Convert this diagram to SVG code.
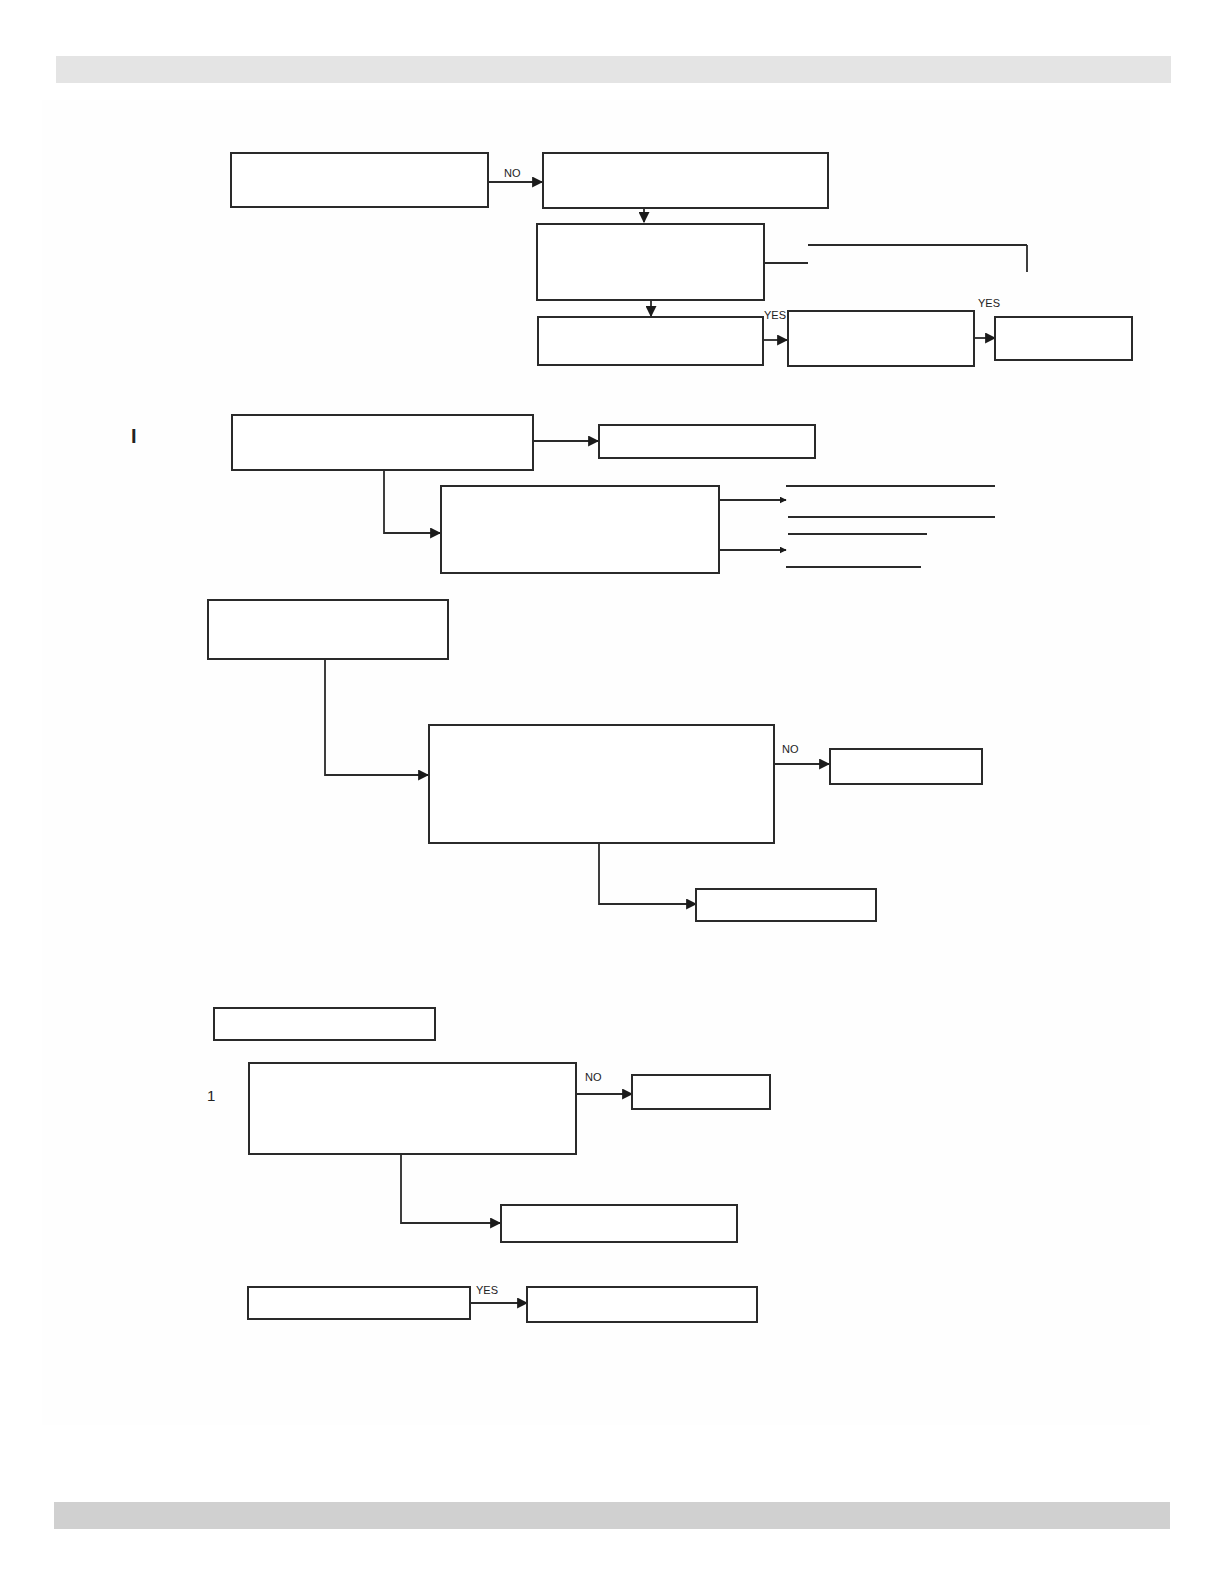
<svg xmlns="http://www.w3.org/2000/svg" width="1224" height="1584" viewBox="0 0 1224 1584">
<defs>
<style>
.box{fill:#ffffff;stroke:#2a2a2a;stroke-width:2}
.ln{fill:none;stroke:#2a2a2a;stroke-width:1.8}
.lbl{font-family:"Liberation Sans",Arial,sans-serif;font-size:11px;fill:#222}
.big{font-family:"Liberation Sans",Arial,sans-serif;font-size:15px;fill:#222}
</style>
<marker id="ah" viewBox="0 0 10 10" refX="9" refY="5" markerWidth="7" markerHeight="7" orient="auto" markerUnits="userSpaceOnUse">
<path d="M0,0 L10,5 L0,10 z" fill="#1a1a1a"/>
</marker>
<marker id="ahs" viewBox="0 0 10 10" refX="9" refY="5" markerWidth="11" markerHeight="11" orient="auto" markerUnits="userSpaceOnUse">
<path d="M0,0 L10,5 L0,10 z" fill="#1a1a1a"/>
</marker>
</defs>
<rect x="0" y="0" width="1224" height="1584" fill="#ffffff"/>
<rect x="42" y="100" width="1108" height="1325" fill="#fefefe"/>
<rect x="56" y="56" width="1115" height="27" fill="#e4e4e4"/>
<rect x="54" y="1502" width="1116" height="27" fill="#d0d0d0"/>

<g id="connectors">
<line class="ln" x1="488" y1="182" x2="542" y2="182" marker-end="url(#ahs)"/>
<line class="ln" x1="644" y1="208" x2="644" y2="222" marker-end="url(#ahs)"/>
<line class="ln" x1="764" y1="263" x2="808" y2="263"/>
<line class="ln" x1="808" y1="245" x2="1027" y2="245"/>
<line class="ln" x1="1027" y1="245" x2="1027" y2="272"/>
<line class="ln" x1="651" y1="300" x2="651" y2="316" marker-end="url(#ahs)"/>
<line class="ln" x1="763" y1="340" x2="787" y2="340" marker-end="url(#ahs)"/>
<line class="ln" x1="974" y1="338" x2="995" y2="338" marker-end="url(#ahs)"/>

<line class="ln" x1="533" y1="441" x2="598" y2="441" marker-end="url(#ahs)"/>
<polyline class="ln" points="384,470 384,533 440,533" marker-end="url(#ahs)"/>
<line class="ln" x1="719" y1="500" x2="786" y2="500" marker-end="url(#ah)"/>
<line class="ln" x1="719" y1="550" x2="786" y2="550" marker-end="url(#ah)"/>
<line class="ln" x1="786" y1="486" x2="995" y2="486"/>
<line class="ln" x1="788" y1="517" x2="995" y2="517"/>
<line class="ln" x1="788" y1="534" x2="927" y2="534"/>
<line class="ln" x1="786" y1="567" x2="921" y2="567"/>

<polyline class="ln" points="325,659 325,775 428,775" marker-end="url(#ahs)"/>
<line class="ln" x1="774" y1="764" x2="829" y2="764" marker-end="url(#ahs)"/>
<polyline class="ln" points="599,843 599,904 696,904" marker-end="url(#ahs)"/>

<line class="ln" x1="576" y1="1094" x2="632" y2="1094" marker-end="url(#ahs)"/>
<polyline class="ln" points="401,1154 401,1223 500,1223" marker-end="url(#ahs)"/>
<line class="ln" x1="470" y1="1303" x2="527" y2="1303" marker-end="url(#ahs)"/>
</g>

<g id="labels">
<text class="lbl" x="504" y="177">NO</text>
<text class="lbl" x="764" y="319">YES</text>
<text class="lbl" x="978" y="307">YES</text>
<text class="big" x="131" y="443" style="font-size:20px;font-weight:bold">I</text>
<text class="lbl" x="782" y="753">NO</text>
<text class="big" x="207" y="1101">1</text>
<text class="lbl" x="585" y="1081">NO</text>
<text class="lbl" x="476" y="1294">YES</text>
</g>

<g id="n1"><rect class="box" x="231" y="153" width="257" height="54"/></g>
<g id="n2"><rect class="box" x="543" y="153" width="285" height="55"/></g>
<g id="n3"><rect class="box" x="537" y="224" width="227" height="76"/></g>
<g id="n4"><rect class="box" x="538" y="317" width="225" height="48"/></g>
<g id="n5"><rect class="box" x="788" y="311" width="186" height="55"/></g>
<g id="n6"><rect class="box" x="995" y="317" width="137" height="43"/></g>

<g id="n7"><rect class="box" x="232" y="415" width="301" height="55"/></g>
<g id="n8"><rect class="box" x="599" y="425" width="216" height="33"/></g>
<g id="n9"><rect class="box" x="441" y="486" width="278" height="87"/></g>

<g id="n10"><rect class="box" x="208" y="600" width="240" height="59"/></g>
<g id="n11"><rect class="box" x="429" y="725" width="345" height="118"/></g>
<g id="n12"><rect class="box" x="830" y="749" width="152" height="35"/></g>
<g id="n13"><rect class="box" x="696" y="889" width="180" height="32"/></g>

<g id="n14"><rect class="box" x="214" y="1008" width="221" height="32"/></g>
<g id="n15"><rect class="box" x="249" y="1063" width="327" height="91"/></g>
<g id="n16"><rect class="box" x="632" y="1075" width="138" height="34"/></g>
<g id="n17"><rect class="box" x="501" y="1205" width="236" height="37"/></g>

<g id="n18"><rect class="box" x="248" y="1287" width="222" height="32"/></g>
<g id="n19"><rect class="box" x="527" y="1287" width="230" height="35"/></g>
</svg>
